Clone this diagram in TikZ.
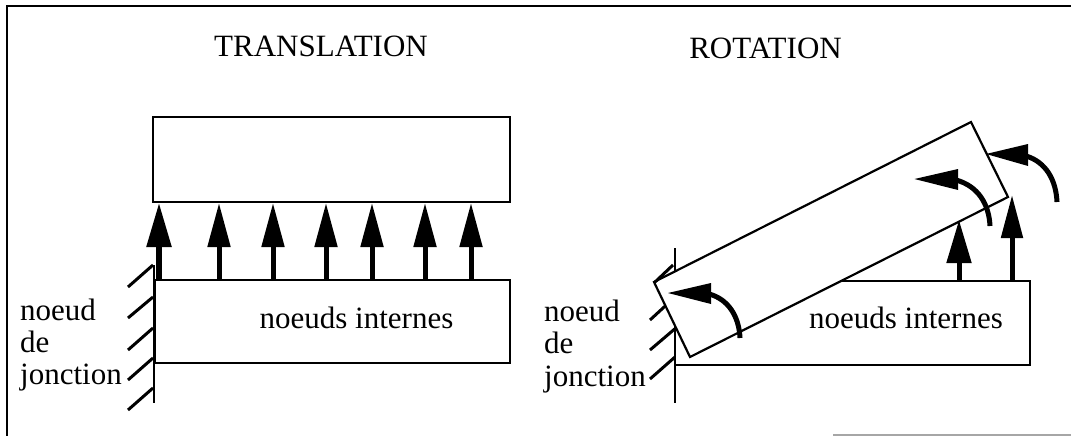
\documentclass[tikz,border=0pt]{standalone}
\usepackage{fontspec}
\setmainfont{Liberation Serif}
\usetikzlibrary{arrows.meta}
\tikzset{
  x=1pt,y=-1pt,
  box/.style={draw=black,line width=2.4pt,fill=white,inner sep=0pt,outer sep=0pt,anchor=north west},
  rotbox/.style={draw=black,line width=2.2pt,fill=white,line join=miter},
  hatch/.style={draw=black,line width=3pt},
  wall/.style={draw=black,line width=2.2pt},
  up/.style={draw=black,line width=5pt,-{Triangle[length=44pt,width=22pt]}},
  shaft/.style={draw=black,line width=5pt},
  tipfill/.style={fill=black},
  lbl/.style={inner sep=0pt,font=\fontsize{31}{31}\selectfont},
  frame/.style={draw=black,line width=2.2pt}
}
\begin{document}
\begin{tikzpicture}
\useasboundingbox (0,0) rectangle (1071,436);
% frame
\coordinate (f1) at (7,436); \coordinate (f2) at (7,6); \coordinate (f3) at (1071,6);
\draw[frame] (f1) -- (f2) -- (f3);
\coordinate (g1) at (833,435); \coordinate (g2) at (1071,435);
\draw[draw=black!35,line width=1.5pt] (g1) -- (g2);
% titles
\node[lbl,anchor=base] (t1) at (321,57) {TRANSLATION};
\node[lbl,anchor=base] (t2) at (765.5,59) {ROTATION};
% left
\node[box,minimum width=357pt,minimum height=85pt] (top) at (153,117) {};
\node[box,minimum width=355pt,minimum height=83pt] (low) at (155,280) {};
\coordinate (wa) at (154,265); \coordinate (wb) at (154,403);
\draw[wall] (wa) -- (wb);
\foreach \y/\e in {265/287,297/318,328/350,358/380,388/410}{
  \draw[hatch] (153,\y) -- (128,\e);
}
\draw[up,line width=5.5pt,-{Triangle[length=44pt,width=24pt]}] (159,280) -- (159,203);
\foreach \x in {219,273,326,372,425,471}{
  \draw[up] (\x,280) -- (\x,203);
}
\node[lbl,anchor=base west] (n1) at (20,320) {noeud};
\node[lbl,anchor=base west] (n2) at (20,352) {de};
\node[lbl,anchor=base west] (n3) at (20,384) {jonction};
\node[lbl,anchor=base] (n4) at (356.5,328) {noeuds internes};
% right
\node[box,minimum width=355pt,minimum height=84pt] (lowr) at (675,281) {};
\coordinate (va) at (675,248); \coordinate (vb) at (675,403);
\draw[wall] (va) -- (vb);
\draw[hatch] (675,297) -- (650,320);
\draw[hatch] (677,327) -- (650,350);
\draw[hatch] (675,357) -- (650,379);
\coordinate (r1) at (654,282); \coordinate (r2) at (971,122);
\coordinate (r3) at (1008,197); \coordinate (r4) at (690,357);
\draw[rotbox] (r1) -- (r2) -- (r3) -- (r4) -- cycle;
\draw[hatch] (673,265) -- (654,283);
\draw[wall] (va) -- (675,266);
\draw[up,-{Triangle[length=43pt,width=24pt]}] (959,281) -- (959,220);
\draw[up,-{Triangle[length=43pt,width=21pt]}] (1012,281) -- (1012,195);
% curved arrows
\draw[shaft] (740,338) .. controls (739,316) and (728,299) .. (709,294);
\fill[tipfill] (711,283) -- (668,293) -- (711,304) -- cycle;
\draw[shaft] (990,226) .. controls (989,204) and (978,186) .. (956,180);
\fill[tipfill] (958,169) -- (914.5,179) -- (958,190) -- cycle;
\draw[shaft] (1057,202) .. controls (1056,180) and (1046,162) .. (1026,156);
\fill[tipfill] (1028,144) -- (986,154) -- (1028,166) -- cycle;
\node[lbl,anchor=base west] (m1) at (544,321) {noeud};
\node[lbl,anchor=base west] (m2) at (544,353) {de};
\node[lbl,anchor=base west] (m3) at (544,386) {jonction};
\node[lbl,anchor=base] (m4) at (906,328) {noeuds internes};
\end{tikzpicture}
\end{document}
